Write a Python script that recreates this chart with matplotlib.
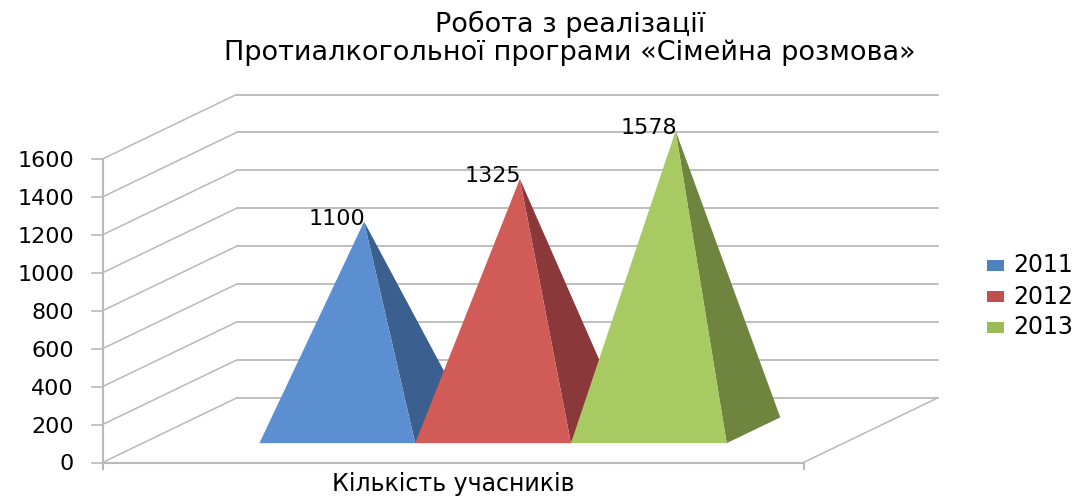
import matplotlib.pyplot as plt
from matplotlib.patches import Polygon, Rectangle

# data
years = ['2011', '2012', '2013']
values = [1100, 1325, 1578]
y_ticks = [0, 200, 400, 600, 800, 1000, 1200, 1400, 1600]
category = 'Кількість учасників'
title = 'Робота з реалізації\nПротиалкогольної програми «Сімейна розмова»'

# colours: front face, side face, legend
front_colors = ['#5C8FD1', '#D15B57', '#A7CA63']
side_colors = ['#3B5F8E', '#8A383A', '#6E843F']
legend_colors = ['#4F81BD', '#C0504D', '#9BBB59']
grid_color = '#B9B9B9'

# oblique projection of the 3D box, in pixels of the picture
X0, Y0 = 102.5, 462.5
FLOOR_W = 701
DEPTH_X, DEPTH_Y = 134, 64.5
PX_PER_UNIT = 303.5 / 1600
BAR_START = 0.1665
BAR_W = 0.2222
D_FRONT, D_BACK = 0.3, 0.7


def project(u, d, v):
    """u: along the floor 0..1, d: depth 0..1, v: value"""
    return (X0 + u * FLOOR_W + d * DEPTH_X, Y0 - v * PX_PER_UNIT - d * DEPTH_Y)


plt.rcParams['font.family'] = ['DejaVu Sans']

fig = plt.figure(figsize=(10.78, 4.96), dpi=100)
ax = fig.add_axes([0, 0, 1, 1])
ax.set_xlim(0, 1078)
ax.set_ylim(496, 0)
ax.axis('off')

# grid on the side and back walls
for t in y_ticks:
    a = project(0, 0, t)
    b = project(0, 1, t)
    c = project(1, 1, t)
    ax.plot([a[0], b[0]], [a[1], b[1]], color=grid_color, lw=1.1, zorder=1)
    ax.plot([b[0], c[0]], [b[1], c[1]], color=grid_color, lw=1.3, zorder=1)
    ax.plot([a[0] - 11, a[0]], [a[1], a[1]], color=grid_color, lw=1.2, zorder=1)
    ax.text(74, a[1] + 2, str(t), ha='right', va='center', fontsize=16, color='black', zorder=6)

# axis lines and the right edge of the floor
bottom_left = project(0, 0, 0)
bottom_right = project(1, 0, 0)
back_right = project(1, 1, 0)
top_left = project(0, 0, y_ticks[-1])
ax.plot([bottom_left[0], top_left[0]], [bottom_left[1], top_left[1]], color=grid_color, lw=1.5, zorder=1)
ax.plot([bottom_left[0], bottom_right[0]], [bottom_left[1], bottom_right[1]], color=grid_color, lw=1.5, zorder=1)
ax.plot([bottom_right[0], back_right[0]], [bottom_right[1], back_right[1]], color=grid_color, lw=1.1, zorder=1)
for p in (bottom_left, bottom_right):
    ax.plot([p[0], p[0]], [p[1], p[1] + 6], color=grid_color, lw=1.5, zorder=1)

# pyramids
for i, v in enumerate(values):
    u0 = BAR_START + i * BAR_W
    u1 = u0 + BAR_W
    apex = project((u0 + u1) / 2, (D_FRONT + D_BACK) / 2, v)
    fl = project(u0, D_FRONT, 0)
    fr = project(u1, D_FRONT, 0)
    br = project(u1, D_BACK, 0)
    z = 2 + i
    ax.add_patch(Polygon([apex, fr, br], closed=True, fc=side_colors[i], ec='none', zorder=z))
    ax.add_patch(Polygon([apex, fl, fr], closed=True, fc=front_colors[i], ec='none', zorder=z))
    ax.text(apex[0] - 27, apex[1] - 3, str(v), ha='center', va='center', fontsize=16, color='black', zorder=6)

# title and category label
ax.text(570, 38, title, ha='center', va='center', fontsize=19.5, color='black', linespacing=1.08)
ax.text(453, 484.5, category, ha='center', va='center', fontsize=17, color='black')

# legend
for i, name in enumerate(years):
    y = 260 + i * 31
    ax.add_patch(Rectangle((987, y), 17, 11, fc=legend_colors[i], ec='none'))
    ax.text(1013, y + 5.5, name, ha='left', va='center', fontsize=17, color='black')

fig.savefig('out.png', dpi=100)
